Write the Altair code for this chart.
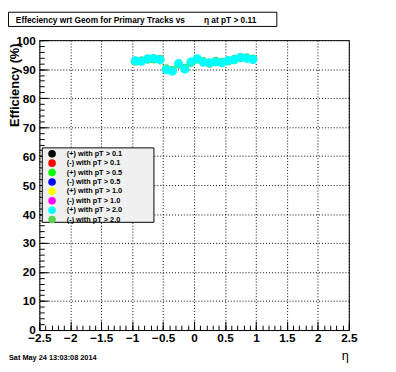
import altair as alt
import pandas as pd

# ---- data ----
eta = [-0.95, -0.85, -0.75, -0.65, -0.55, -0.45, -0.35, -0.25, -0.15, -0.05,
       0.05, 0.15, 0.25, 0.35, 0.45, 0.55, 0.65, 0.75, 0.85, 0.95]
eff_pos_pt20 = [92.9, 92.7, 93.6, 93.7, 93.2, 89.8, 89.3, 91.9, 90.0, 92.5,
                93.6, 92.4, 92.2, 92.5, 92.2, 93.0, 93.2, 94.1, 93.7, 93.3]
eff_neg_pt20 = [92.7, 92.9, 93.4, 93.5, 93.4, 90.1, 89.6, 91.7, 90.3, 92.3,
                93.4, 92.6, 92.0, 92.7, 92.4, 92.8, 93.4, 93.9, 93.9, 93.5]

series_labels = ["(+) with pT > 0.1", "(-) with pT > 0.1",
                 "(+) with pT > 0.5", "(-) with pT > 0.5",
                 "(+) with pT > 1.0", "(-) with pT > 1.0",
                 "(+) with pT > 2.0", "(-) with pT > 2.0"]
series_colors = ["#000000", "#ff0000", "#00ff00", "#0000ff",
                 "#ffff00", "#ff00ff", "#00ffff", "#59d454"]

x_major = [-2.5, -2.0, -1.5, -1.0, -0.5, 0.0, 0.5, 1.0, 1.5, 2.0, 2.5]
x_minor = [round(-2.5 + 0.1 * i, 1) for i in range(51)]
y_major = [0, 10, 20, 30, 40, 50, 60, 70, 80, 90, 100]
y_minor = list(range(0, 101, 2))

title_left = "Effeciency wrt Geom for Primary Tracks vs"
title_right = "η at pT > 0.11"
date_text = "Sat May 24 13:03:08 2014"

rows = []
for e, v in zip(eta, eff_neg_pt20):
    rows.append({"eta": e, "eff": v, "series": "(-) with pT > 2.0"})
for e, v in zip(eta, eff_pos_pt20):
    rows.append({"eta": e, "eff": v, "series": "(+) with pT > 2.0"})
df = pd.DataFrame(rows)

W, H = 316, 296
FONT = "Liberation Sans"
xs = alt.Scale(domain=[-2.5, 2.5], nice=False, zero=False)
ys = alt.Scale(domain=[0, 100], nice=False, zero=False)

one = pd.DataFrame({"a": [0]})

legend_box = alt.Chart(one).mark_rect(fill="#f0f0f0", stroke="black", strokeWidth=1).encode(
    x=alt.value(3), x2=alt.value(117), y=alt.value(110), y2=alt.value(186))

points = alt.Chart(df).mark_circle(size=85, opacity=1).encode(
    x=alt.X("eta:Q", scale=xs, axis=alt.Axis(
        values=x_major, format="~r", grid=True, gridDash=[1, 2], gridColor="black",
        gridOpacity=1, ticks=False, domain=False, labelFont=FONT, labelFontSize=12,
        labelFontWeight="bold", labelColor="black", labelPadding=3, labelFlush=False,
        title="η", titleFont=FONT, titleFontSize=13, titleFontWeight="normal",
        titleColor="black", titleX=312, titleY=26, titleAlign="center",
        titleBaseline="middle")),
    y=alt.Y("eff:Q", scale=ys, axis=alt.Axis(
        values=y_major, format="~r", grid=True, gridDash=[1, 2], gridColor="black",
        gridOpacity=1, ticks=False, domain=False, labelFont=FONT, labelFontSize=12,
        labelFontWeight="bold", labelColor="black", labelPadding=4, labelFlush=False,
        title="Efficiency (%)", titleFont=FONT, titleFontSize=13, titleFontWeight="bold",
        titleColor="black", titleAngle=270, titleAlign="right", titleBaseline="middle",
        titleX=-25, titleY=3)),
    color=alt.Color("series:N", scale=alt.Scale(domain=series_labels, range=series_colors),
                    legend=alt.Legend(orient="none", legendX=9, legendY=112, title=None,
                                      symbolType="circle", symbolSize=60, symbolStrokeWidth=0,
                                      labelFont=FONT, labelFontSize=7.5, labelFontWeight="bold",
                                      labelColor="black", labelOffset=11, rowPadding=1.6,
                                      padding=0)),
)

def tick_layer(xv, yv, size):
    return alt.Chart(df).mark_point(opacity=0).encode(
        x=alt.X("eta:Q", scale=xs, axis=alt.Axis(
            orient="top", offset=-H, values=xv, labels=False, domain=False, grid=False,
            ticks=True, tickSize=size, tickColor="black", tickWidth=1, title=None)),
        y=alt.Y("eff:Q", scale=ys, axis=alt.Axis(
            orient="right", offset=-W, values=yv, labels=False, domain=False, grid=False,
            ticks=True, tickSize=size, tickColor="black", tickWidth=1, title=None)),
    )

major_ticks = tick_layer(x_major, y_major, 9)
minor_ticks = tick_layer(x_minor, y_minor, 5)

title_box = alt.Chart(one).mark_rect(fill="white", stroke="black", strokeWidth=1).encode(
    x=alt.value(-31.5), x2=alt.value(242.5), y=alt.value(-28.5), y2=alt.value(-14))
t1 = alt.Chart(one).mark_text(align="left", baseline="middle", font=FONT, fontSize=8.5,
                              fontWeight="bold", color="black").encode(
    x=alt.value(-24), y=alt.value(-21), text=alt.value(title_left))
t2 = alt.Chart(one).mark_text(align="left", baseline="middle", font=FONT, fontSize=8.5,
                              fontWeight="bold", color="black").encode(
    x=alt.value(168), y=alt.value(-21), text=alt.value(title_right))
date = alt.Chart(one).mark_text(align="left", baseline="middle", font=FONT, fontSize=7.5,
                                fontWeight="bold", color="black").encode(
    x=alt.value(-31), y=alt.value(325), text=alt.value(date_text))

chart = alt.layer(
    legend_box, points, major_ticks, minor_ticks, title_box, t1, t2, date
).resolve_axis(x="independent", y="independent").properties(
    width=W, height=H,
    autosize=alt.AutoSizeParams(type="none"),
    padding={"left": 32, "top": 29, "right": 40, "bottom": 39},
    background="white",
).configure_view(stroke="black", strokeWidth=1)

chart.save("out.html", embed_options={"renderer": "svg", "actions": False})
